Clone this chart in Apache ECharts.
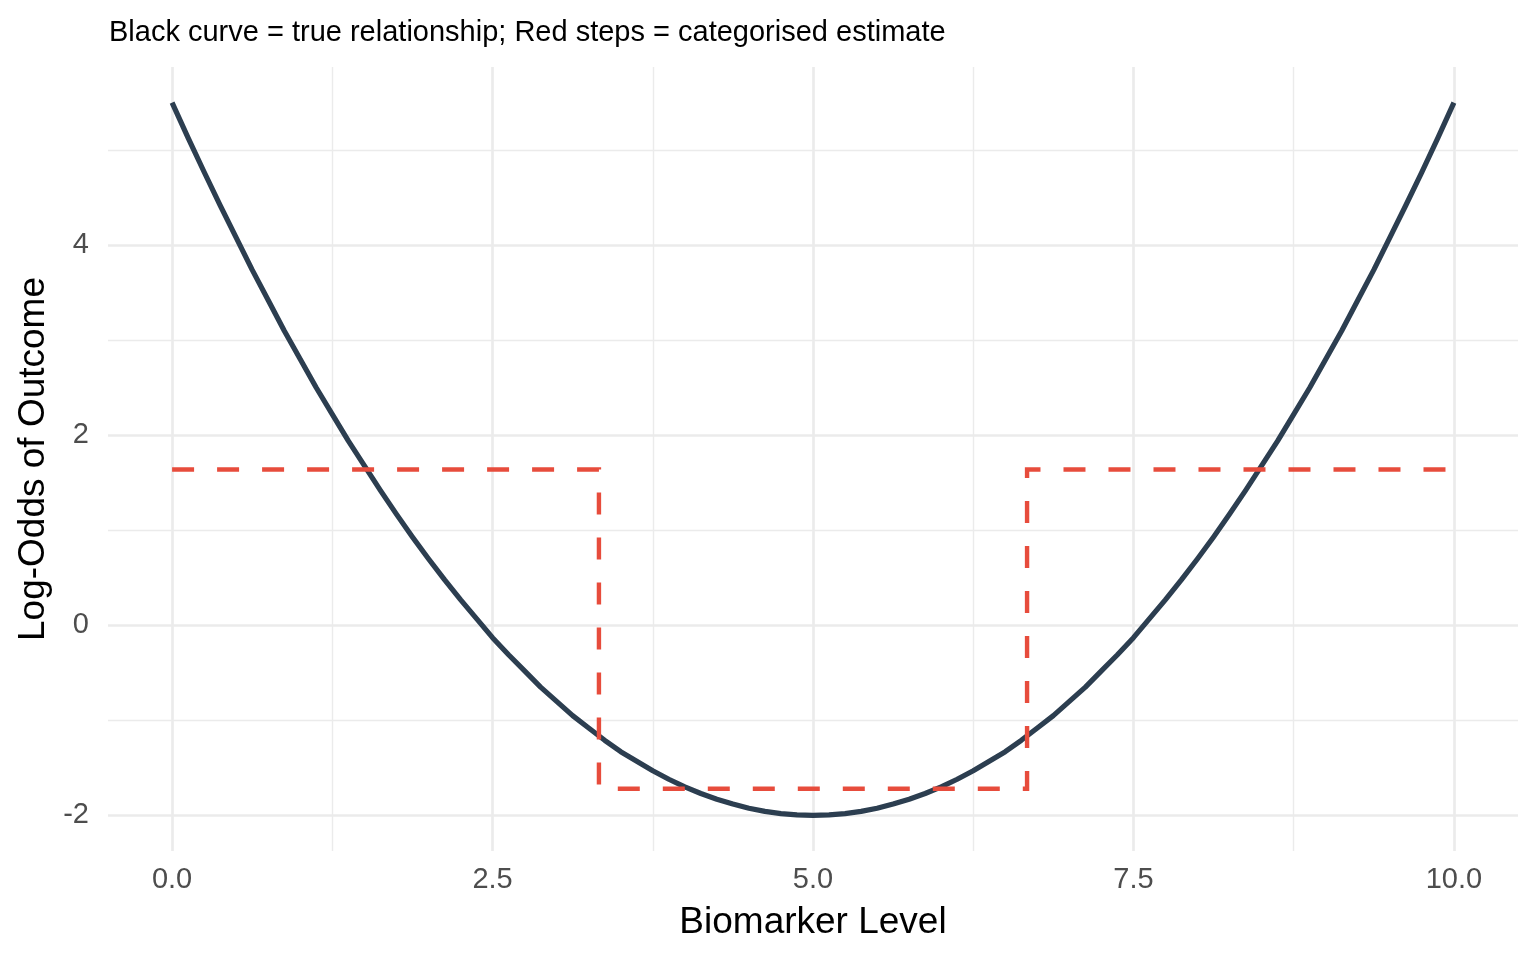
<!DOCTYPE html>
<html>
<head>
<meta charset="utf-8">
<script src="https://cdn.jsdelivr.net/npm/echarts@6/dist/echarts.min.js"></script>
<style>html,body{margin:0;padding:0;background:#fff;}#c{width:1536px;height:960px;}</style>
</head>
<body>
<div id="c"></div>
<script>
// Data
var curveX = [0,0.125,0.25,0.375,0.5,0.625,0.75,0.875,1,1.125,1.25,1.375,1.5,1.625,1.75,1.875,
              2,2.125,2.25,2.375,2.5,2.625,2.75,2.875,3,3.125,3.25,3.375,3.5,3.625,3.75,3.875,
              4,4.125,4.25,4.375,4.5,4.625,4.75,4.875,5,5.125,5.25,5.375,5.5,5.625,5.75,5.875,
              6,6.125,6.25,6.375,6.5,6.625,6.75,6.875,7,7.125,7.25,7.375,7.5,7.625,7.75,7.875,
              8,8.125,8.25,8.375,8.5,8.625,8.75,8.875,9,9.125,9.25,9.375,9.5,9.625,9.75,9.875,10];
var curveY = [5.50,5.13,4.77,4.42,4.08,3.74,3.42,3.10,2.80,2.50,2.22,1.94,1.68,1.42,1.17,0.93,
              0.70,0.48,0.27,0.07,-0.13,-0.31,-0.48,-0.65,-0.80,-0.95,-1.08,-1.21,-1.33,-1.43,-1.53,-1.62,
              -1.70,-1.77,-1.83,-1.88,-1.925,-1.958,-1.981,-1.995,-2.00,-1.995,-1.981,-1.958,-1.925,-1.88,-1.83,-1.77,
              -1.70,-1.62,-1.53,-1.43,-1.33,-1.21,-1.08,-0.95,-0.80,-0.65,-0.48,-0.31,-0.13,0.07,0.27,0.48,
              0.70,0.93,1.17,1.42,1.68,1.94,2.22,2.50,2.80,3.10,3.42,3.74,4.08,4.42,4.77,5.13,5.50];
var stepX = [0, 3.33, 3.33, 6.67, 6.67, 10];
var stepY = [1.64, 1.64, -1.72, -1.72, 1.64, 1.64];
var xTickLabels = [0, 2.5, 5, 7.5, 10];
var yTickLabels = [-2, 0, 2, 4];
var xMinorGrid = [1.25, 3.75, 6.25, 8.75];
var yMinorGrid = [-1, 1, 3, 5];

var FONT = '"Liberation Sans", Arial, Helvetica, sans-serif';
var curveData = curveX.map(function (x, i) { return [x, curveY[i]]; });
var stepData = stepX.map(function (x, i) { return [x, stepY[i]]; });

function isIn(v, arr) {
  for (var i = 0; i < arr.length; i++) if (Math.abs(v - arr[i]) < 1e-6) return true;
  return false;
}

var gridLines = [];
xMinorGrid.forEach(function (v) { gridLines.push({ xAxis: v, lineStyle: { width: 1.4 } }); });
yMinorGrid.forEach(function (v) { gridLines.push({ yAxis: v, lineStyle: { width: 1.4 } }); });
xTickLabels.forEach(function (v) { gridLines.push({ xAxis: v, lineStyle: { width: 2.7 } }); });
yTickLabels.forEach(function (v) { gridLines.push({ yAxis: v, lineStyle: { width: 2.7 } }); });

var chart = echarts.init(document.getElementById('c'), null, { renderer: 'canvas' });
chart.setOption({
  animation: false,
  backgroundColor: '#ffffff',
  title: {
    text: 'Black curve = true relationship; Red steps = categorised estimate',
    left: 104,
    top: 13,
    textStyle: { fontFamily: FONT, fontSize: 29, fontWeight: 'normal', color: '#000000' }
  },
  grid: { left: 108, right: 18, top: 67, bottom: 109, containLabel: false },
  xAxis: {
    type: 'value',
    min: -0.5,
    max: 10.5,
    interval: 0.5,
    name: 'Biomarker Level',
    nameLocation: 'middle',
    nameGap: 53,
    nameTextStyle: { fontFamily: FONT, fontSize: 37, color: '#000000' },
    axisLine: { show: false },
    axisTick: { show: false },
    splitLine: { show: false },
    axisLabel: {
      interval: 0,
      margin: 14,
      hideOverlap: false,
      fontFamily: FONT,
      fontSize: 29,
      color: '#4D4D4D',
      formatter: function (v) { return isIn(v, xTickLabels) ? v.toFixed(1) : ''; }
    }
  },
  yAxis: {
    type: 'value',
    min: -2.375,
    max: 5.875,
    interval: 0.125,
    name: 'Log-Odds of Outcome',
    nameLocation: 'middle',
    nameGap: 56,
    nameTextStyle: { fontFamily: FONT, fontSize: 37, color: '#000000' },
    axisLine: { show: false },
    axisTick: { show: false },
    splitLine: { show: false },
    axisLabel: {
      interval: 0,
      margin: 19,
      hideOverlap: false,
      fontFamily: FONT,
      fontSize: 29,
      color: '#4D4D4D',
      formatter: function (v) { return isIn(v, yTickLabels) ? String(v) : ''; }
    }
  },
  series: [
    {
      name: 'grid',
      type: 'line',
      data: curveData,
      silent: true,
      symbol: 'none',
      z: 0,
      lineStyle: { opacity: 0 },
      markLine: {
        silent: true,
        symbol: 'none',
        z: 0,
        label: { show: false },
        animation: false,
        lineStyle: { color: '#EBEBEB', type: 'solid' },
        emphasis: { disabled: true },
        data: gridLines
      }
    },
    {
      name: 'True relationship',
      type: 'line',
      data: curveData,
      smooth: false,
      symbol: 'none',
      z: 3,
      lineStyle: { color: '#2C3E50', width: 5.2, cap: 'butt', join: 'round' }
    },
    {
      name: 'Categorised estimate',
      type: 'line',
      data: stepData,
      symbol: 'none',
      z: 4,
      lineStyle: { color: '#E74C3C', width: 4.4, type: [22, 23], cap: 'butt', join: 'miter' }
    }
  ]
});
</script>
</body>
</html>
